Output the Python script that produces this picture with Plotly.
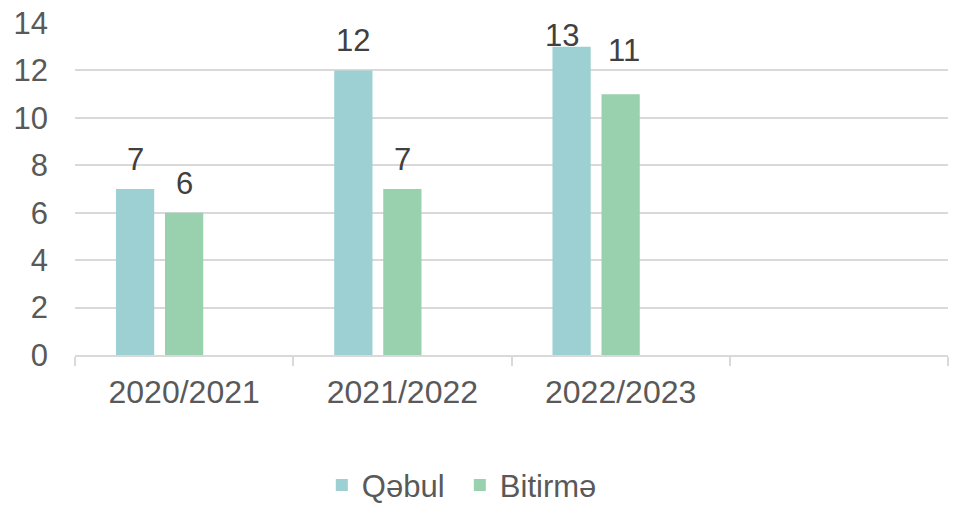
import plotly.graph_objects as go

categories = ["2020/2021", "2021/2022", "2022/2023", " "]
qebul = [7, 12, 13, None]
bitirme = [6, 7, 11, None]
empty_series = [None, None, None, None]
y_ticks = [0, 2, 4, 6, 8, 10, 12, 14]

FONT = "Liberation Sans, Arial, sans-serif"
FS = 31

fig = go.Figure()
fig.add_trace(go.Bar(
    name="Qəbul", x=categories, y=qebul,
    marker=dict(color="#9DD0D3", line=dict(width=0)),
))
fig.add_trace(go.Bar(
    name="Bitirmə", x=categories, y=bitirme,
    marker=dict(color="#99D1AE", line=dict(width=0)),
))
fig.add_trace(go.Bar(
    name="", x=categories, y=empty_series, showlegend=False,
    marker=dict(color="rgba(0,0,0,0)"), hoverinfo="skip",
))

# data labels placed on the data coordinates of each bar
slot_shift = {"Qəbul": -49, "Bitirmə": 0}
label_adjust = {("Qəbul", 2): (-10, -18), ("Bitirmə", 2): (3, 14)}
for name, vals in (("Qəbul", qebul), ("Bitirmə", bitirme)):
    for i, (c, v) in enumerate(zip(categories, vals)):
        if v is None:
            continue
        dx, dy = label_adjust.get((name, i), (0, 0))
        fig.add_annotation(
            x=c, y=v, xref="x", yref="y", text=str(v), showarrow=False,
            xanchor="center", yanchor="bottom",
            xshift=slot_shift[name] + dx, yshift=10 + dy,
            font=dict(size=FS, color="#404040", family=FONT),
        )

fig.update_layout(
    width=955, height=505,
    paper_bgcolor="white", plot_bgcolor="white",
    margin=dict(l=75, r=7, t=23, b=150, autoexpand=False),
    barmode="group", bargap=0.326, bargroupgap=0.22,
    font=dict(family=FONT, size=FS, color="#595959"),
    legend=dict(orientation="h", xref="container", yref="container",
                x=0.337, xanchor="left", y=0.039, yanchor="middle",
                font=dict(size=FS, color="#595959"), itemsizing="constant",
                traceorder="normal", entrywidth=93),
)
fig.update_xaxes(
    type="category", tickson="boundaries", ticks="outside", ticklen=9,
    tickcolor="#d9d9d9", tickwidth=1.5, automargin=False,
    showline=True, linecolor="#d9d9d9", linewidth=1.5,
    showgrid=False, tickfont=dict(size=32, color="#595959"),
    ticklabelstandoff=8,
)
fig.update_yaxes(
    range=[0, 14], tickvals=y_ticks, showgrid=True, gridcolor="#d9d9d9", gridwidth=1.5,
    zeroline=False, showline=False, ticks="", ticklabelstandoff=26, automargin=False,
    tickfont=dict(size=FS, color="#595959"),
)

fig.write_html(
    "out.html",
    config={"displayModeBar": False},
    post_script="document.body.style.margin='0';document.body.style.overflow='hidden';",
)
